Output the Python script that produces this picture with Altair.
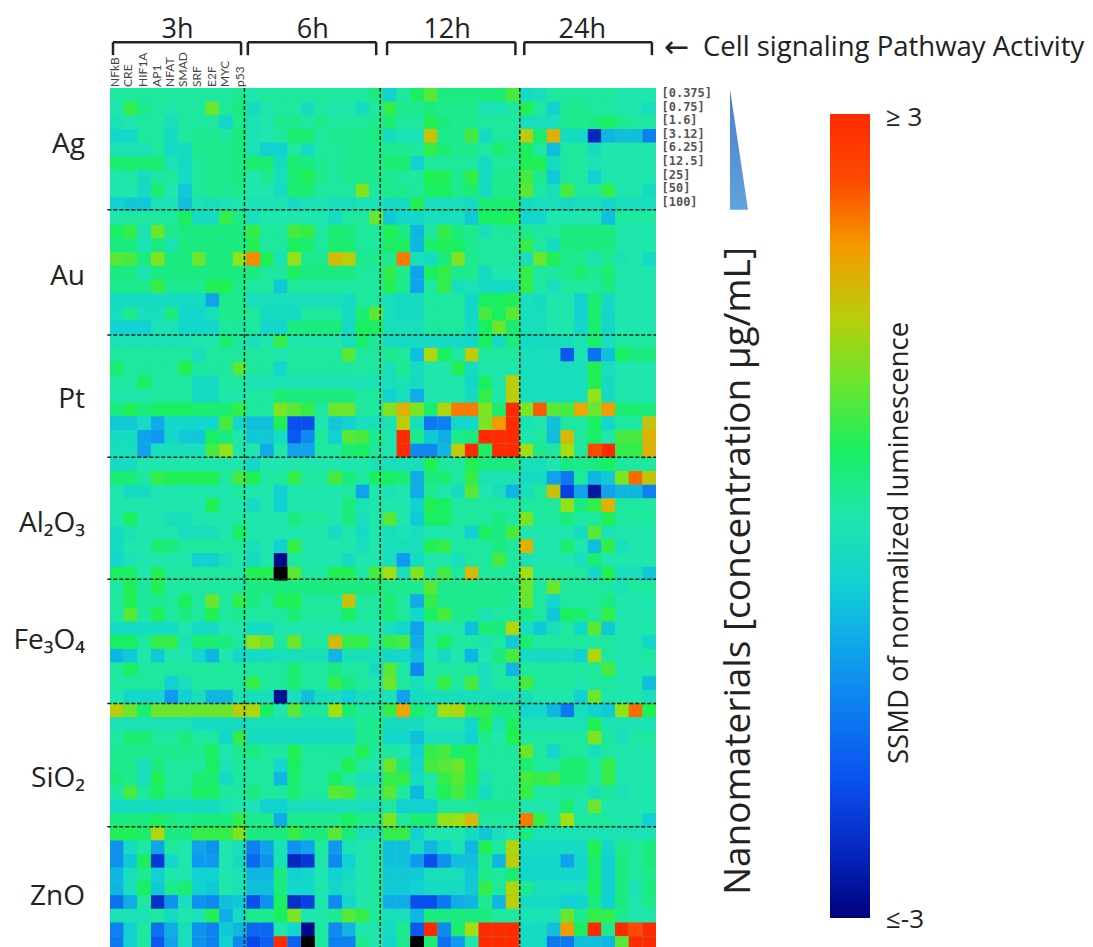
import altair as alt
import pandas as pd

FONT = "Open Sans"
MATERIALS = ["Ag", "Au", "Pt", "Al₂O₃", "Fe₃O₄", "SiO₂", "ZnO"]
TIMES = ["3h", "6h", "12h", "24h"]
PATHWAYS = ["NFkB", "CRE", "HIF1A", "AP1", "NFAT", "SMAD", "SRF", "E2F", "MYC", "p53"]
CONCS = ["[0.375]", "[0.75]", "[1.6]", "[3.12]", "[6.25]", "[12.5]", "[25]", "[50]", "[100]"]
BAR_LABELS = ["≥ 3", "≤-3"]

# SSMD in tenths; each row = 3h, 6h, 12h, 24h blocks of ten pathways
AG = [
 [1,1,1,1,1,1,1,1,1,2, 0,1,1,1,1,1,1,1,1,3, -5,1,5,9,3,3,3,3,4,8, -3,-2,1,1,1,1,1,0,0,0],
 [0,7,2,1,0,1,1,10,1,3, -3,0,1,1,-3,1,0,0,-3,1, 7,2,2,3,2,2,2,-1,-1,1, 6,1,-5,2,2,1,1,0,0,-2],
 [-1,0,1,1,-2,1,1,1,-4,2, -1,0,2,2,1,2,1,1,1,2, 4,1,1,6,3,2,2,1,1,1, -2,-2,-2,2,2,3,5,2,1,1],
 [-4,-4,1,1,-3,1,2,2,1,3, -1,0,1,4,4,1,2,2,2,3, -3,-1,-1,16,2,2,8,-3,1,1, 15,4,18,-3,-3,-25,-8,-7,-7,-14],
 [-1,-1,-1,1,-3,-3,2,2,2,3, -1,-5,-5,1,-3,1,1,2,2,2, 2,2,1,7,4,2,2,1,4,2, 5,1,-7,1,1,-3,0,0,0,0],
 [4,4,4,4,-1,-3,1,2,2,3, 4,4,-3,4,3,2,1,2,2,2, 4,4,-5,1,1,1,1,-3,1,1, 6,6,-3,1,1,-1,0,0,0,0],
 [0,1,-3,1,1,-3,1,2,2,3, 0,2,-2,4,6,2,1,2,2,2, 2,1,1,6,6,2,7,-3,2,2, 8,2,-6,1,1,-5,0,0,0,0],
 [0,0,-3,4,0,-6,1,2,2,2, 0,0,-3,4,4,1,1,1,11,1, 2,2,1,5,5,2,4,-3,2,2, 9,1,-2,8,1,1,7,0,0,-3],
 [-5,-6,-6,-1,-1,-7,-1,-2,-1,0, -1,-1,-1,-3,-1,-1,-2,-2,-1,-1, -3,-3,6,-2,-2,-2,-3,4,4,4, -3,-2,-2,-3,-2,-2,-4,-2,-2,-2],
]
AU = [
 [0,1,1,1,1,5,-3,-3,7,2, -2,0,0,0,0,0,-3,1,1,10, -6,-4,-4,-2,-2,-2,-6,5,5,6, -4,-4,0,0,0,0,-7,1,1,1],
 [5,7,-1,10,2,3,3,3,3,3, 7,1,1,8,7,1,4,3,1,1, 6,3,-8,1,7,3,2,-2,1,1, 2,1,1,3,3,3,3,0,0,0],
 [3,3,-1,3,-1,3,3,3,3,3, 6,1,1,5,4,1,4,4,1,1, 5,5,-8,4,6,5,2,1,1,1, 7,1,-3,3,3,3,3,0,0,0],
 [9,8,3,11,3,3,10,3,3,12, 21,6,-1,12,2,2,17,15,2,2, 2,22,-2,-3,3,11,2,1,1,1, -2,10,6,2,2,-1,2,-1,0,-3],
 [3,3,-1,3,3,3,3,3,3,3, 3,1,1,5,3,3,3,3,1,1, 7,2,-10,5,7,2,2,-3,0,0, 7,1,1,2,4,2,4,0,0,0],
 [2,2,2,7,2,2,2,6,6,2, 1,1,-6,1,1,1,1,1,1,1, 6,2,-10,1,7,-2,-1,-3,-3,-3, 7,1,-2,1,1,1,3,0,0,0],
 [-3,-3,-3,-3,-3,-3,-3,-10,2,2, -2,-2,-2,-2,-2,-2,-2,-3,1,1, -2,-3,-3,1,1,1,-4,5,5,6, -2,-3,0,0,-5,4,-3,0,0,0],
 [-2,2,-2,-2,3,-4,-4,-2,2,2, 1,-3,-3,-3,1,1,1,-3,4,9, -2,-3,-3,1,1,1,-4,8,5,9, -2,-2,0,0,-5,4,-4,0,0,0],
 [-5,-5,-5,-1,-1,-4,-4,-4,1,1, 1,-4,-4,3,3,3,3,-3,5,5, -2,-2,-2,1,1,1,-3,5,10,4, -2,-2,0,0,-4,4,-4,0,0,0],
]
PT = [
 [-1,-1,-1,-1,-1,-1,0,0,4,1, -2,0,7,0,0,0,0,-2,4,1, -3,-3,-3,-3,-3,-3,-4,5,-3,3, -3,-3,-3,-2,-1,4,-2,1,1,1],
 [1,1,1,1,1,1,-2,1,1,1, 1,1,0,1,1,1,1,9,1,1, 2,1,-7,14,5,1,15,1,1,1, -2,-2,-2,-19,-1,-16,-7,5,3,3],
 [4,1,1,1,1,6,1,1,1,9, 1,1,-4,1,1,1,1,1,1,1, -2,2,-3,0,0,6,-3,0,0,0, -2,-2,-2,-2,-2,6,-2,0,0,0],
 [1,1,5,1,1,1,-3,-3,1,1, -1,-1,-1,-1,-1,-1,-1,-1,-1,-1, -2,-1,-3,0,0,0,-4,5,0,15, -2,-2,-2,-2,-2,6,-3,0,0,0],
 [0,0,0,1,1,1,-3,-3,0,0, 1,1,4,3,3,3,3,3,1,1, -5,-2,-9,0,0,0,-3,7,0,15, -2,-2,-2,-2,-2,12,-3,0,0,0],
 [3,6,3,5,5,5,4,4,4,7, 1,1,11,9,7,1,10,10,1,1, 11,18,11,4,14,22,22,11,4,30, 11,24,9,8,19,10,20,4,4,3],
 [-6,-6,-3,-9,-4,-4,-4,-4,8,-4, -7,-7,6,-20,-20,0,-6,-5,-2,-2, -1,15,-2,-15,-14,-4,-4,11,20,30, -1,0,-7,1,1,5,-4,1,1,16],
 [-3,-3,-10,-11,-4,-6,-6,5,3,0, -6,-6,-3,-19,-13,1,-5,9,8,2, 0,28,2,-6,-9,2,3,30,30,30, 0,1,-7,17,1,5,0,8,8,18],
 [-2,-2,-10,-2,-2,-2,-2,8,12,0, 0,-9,0,-10,-10,1,1,4,5,1, 0,28,-13,-13,-8,15,30,5,30,30, 13,2,1,13,1,25,28,7,7,18],
]
AL = [
 [-3,-3,0,0,0,0,0,0,0,0, -4,0,0,0,0,0,0,0,0,-1, -2,-2,-2,6,1,1,6,3,3,3, -2,-2,0,3,2,3,5,1,1,1],
 [4,4,1,7,6,6,6,6,1,8, 6,1,1,7,1,1,8,3,1,5, 5,4,-9,3,4,1,7,-1,-1,-1, -3,-3,-10,-15,1,-8,-6,11,23,16],
 [0,-3,-3,0,0,0,0,0,0,1, 0,0,-5,0,0,0,0,1,-10,0, -1,0,-9,2,0,-3,9,0,-2,-8, -2,1,16,-22,-10,-27,-10,-8,-8,-14],
 [0,0,0,0,0,0,0,6,0,0, -3,0,-5,0,0,0,0,3,-1,0, 0,0,-5,6,5,1,1,1,1,1, 1,1,1,12,3,7,18,1,1,1],
 [0,5,0,0,-2,-2,0,0,0,1, 0,0,0,3,1,1,0,3,-2,0, 9,0,-6,5,5,1,1,1,3,1, 11,1,1,3,1,1,6,1,1,1],
 [-3,-1,0,0,0,-2,-2,-2,0,5, 0,0,0,0,0,0,-3,0,-3,0, -2,-1,-2,0,0,0,-5,5,3,8, 0,0,0,0,-3,9,-1,0,0,0],
 [-3,0,0,4,3,1,1,1,1,1, -2,0,-5,7,0,0,0,0,-2,0, -2,-2,-2,6,7,1,1,1,3,1, 18,0,0,4,0,-7,7,-2,0,0],
 [-4,-1,0,0,0,0,-5,-5,-2,0, -3,0,-29,1,0,0,0,-3,0,0, -2,-11,-3,0,0,-2,1,1,8,1, -1,0,0,0,-2,4,0,0,0,0],
 [5,5,0,6,1,1,1,1,1,1, 6,6,-35,9,1,1,6,6,1,8, 13,-2,11,1,8,1,17,1,1,1, 13,1,1,1,1,-4,6,-2,-2,-6],
]
FE = [
 [1,6,1,6,1,1,1,1,1,1, 3,3,3,3,3,3,3,3,3,3, 2,2,2,9,2,2,2,2,2,2, 10,1,10,1,1,1,1,-1,1,1],
 [1,6,1,2,1,5,1,10,1,7, 3,1,6,6,1,1,1,16,1,1, 4,1,-9,7,2,2,2,2,2,1, 10,1,-4,1,1,1,3,0,0,0],
 [1,9,1,6,1,3,1,6,1,2, 1,1,1,4,1,1,1,5,1,1, 4,1,-4,5,8,2,2,-1,1,1, 3,1,-6,5,4,1,7,0,0,0],
 [-3,-3,-3,-3,-3,0,-3,-3,0,0, -3,-3,0,0,0,0,0,0,0,0, -2,-4,-10,0,0,0,-7,4,3,14, -2,-6,-2,1,-4,9,-6,0,0,0],
 [5,5,1,7,7,-1,4,4,3,1, 12,10,1,10,1,1,17,7,7,1, 7,8,-9,1,5,1,1,-1,1,-6, 4,1,1,1,1,1,1,0,0,-4],
 [-8,-6,0,-6,0,0,-4,-8,0,-4, -3,-3,-2,-2,-2,-2,-8,-2,-2,-2, -4,-4,-7,0,-3,0,-8,0,3,8, -3,-3,-3,-3,-5,14,1,0,0,1],
 [1,5,1,1,1,1,1,1,1,1, 1,1,1,4,1,1,3,1,1,-3, 9,1,-13,1,1,1,1,-2,1,-8, 1,1,1,1,1,1,8,0,0,0],
 [1,1,1,1,-5,-2,1,1,1,1, 7,1,1,4,1,1,7,3,1,0, 10,1,-2,1,7,1,8,-2,1,1, 8,1,1,1,0,1,1,0,0,-7],
 [0,-4,-4,-4,-11,-5,-2,-8,-8,-1, -2,-2,-28,-2,-7,-2,-2,-5,-2,-2, -1,-10,-3,-2,-2,-2,-2,-2,-2,-2, -2,0,0,0,-5,10,0,0,0,-2],
]
SI = [
 [15,10,4,10,10,10,10,10,10,15, 14,5,0,9,1,1,13,4,1,1, 7,19,4,1,13,14,7,7,3,3, -4,-4,-8,-15,-2,-5,-6,12,23,6],
 [-1,-1,-1,-1,-1,-1,-3,-3,-3,-3, -2,-2,-2,-2,-2,-2,-2,-2,2,2, -3,-3,-3,0,0,0,-4,6,-1,5, -1,-1,-1,-1,-1,6,-1,-1,-1,-1],
 [1,4,4,1,1,3,1,1,-4,7, -3,-3,-3,-3,-3,-3,-3,-3,2,2, -4,-4,-7,-2,-2,-2,-5,2,0,6, 1,1,1,1,1,11,1,-2,1,1],
 [2,2,2,2,2,2,2,5,0,2, 3,1,1,6,1,1,1,1,6,1, 1,0,-5,7,8,4,6,1,1,1, 10,1,-4,1,1,-2,1,0,0,0],
 [2,2,-2,3,1,1,1,5,-1,1, 1,1,-4,5,1,1,1,6,1,0, 10,3,-4,8,9,10,6,1,1,1, 4,1,1,4,4,1,7,0,0,0],
 [3,2,-2,6,1,1,4,4,-3,1, 1,1,-8,4,1,1,5,1,-2,-2, 7,7,-3,1,7,9,6,-1,1,1, 8,7,8,4,4,1,7,0,0,0],
 [1,8,1,5,1,1,5,5,1,1, 3,1,1,4,1,1,9,8,1,1, 9,1,-8,1,6,8,4,-3,1,1, 7,1,1,1,1,-2,1,-1,0,0],
 [-3,-3,-3,-3,-3,-3,-3,-3,-1,0, -1,-5,-5,-2,-2,-2,-2,-2,-2,-2, 1,-5,-5,-5,1,1,1,2,2,2, 0,0,0,4,0,10,0,0,0,0],
 [3,3,3,5,3,2,3,3,3,7, 2,2,-9,2,2,2,2,5,2,2, 11,1,4,3,12,13,17,1,1,1, 22,7,1,13,1,1,1,0,0,-5],
]
ZN = [
 [6,6,4,14,3,3,7,7,7,11, 3,3,3,7,3,3,9,3,-2,-2, 7,7,-5,0,0,0,-3,-6,-2,0, 3,-1,-1,-1,-1,-1,-1,-1,-1,-1],
 [-12,-3,1,-10,1,0,-10,-12,0,-2, -14,-10,-1,-12,-10,1,-11,-1,0,1, -7,-7,-3,-8,-4,-1,-8,6,1,14, -3,-3,-3,-3,-3,6,-4,2,1,3],
 [-12,-6,5,-23,-4,0,-11,-11,0,-3, -17,-12,-1,-25,-23,0,-13,-5,0,1, -7,-7,-11,-20,-12,-7,-7,2,-8,15, -4,-4,-4,-10,-4,4,-5,3,1,3],
 [-8,-2,2,-5,0,0,-5,-5,0,-1, -8,-8,3,-5,-4,0,-5,-3,0,1, -6,-6,-6,-2,-2,-2,-6,2,1,4, -4,-4,-4,-4,-4,4,-5,3,1,2],
 [-8,-2,5,-6,2,4,-5,-6,0,-1, -7,-7,3,-4,-4,0,-4,-2,0,1, -6,-6,-5,-3,-3,-3,-6,7,1,14, 2,-2,-2,-2,-2,5,-5,3,-1,3],
 [-16,-9,1,-24,-12,-2,-12,-13,-7,-6, -20,-12,5,-24,-22,0,-13,-4,0,1, -9,-9,-20,-20,-15,-9,-8,2,-8,15, -3,-3,-3,-5,-5,3,-5,3,0,2],
 [-1,-1,-1,1,-3,0,-1,6,-9,-3, 2,2,5,11,0,0,2,9,7,1, -2,-2,-8,3,3,3,3,3,1,1, -1,-1,-1,10,2,7,7,2,0,0],
 [-14,-5,1,-16,-9,-2,-12,-14,-6,-8, -17,-17,0,-4,-29,1,-13,-8,0,0, -3,2,-19,27,-13,4,13,30,30,30, -3,-3,-7,20,5,27,2,28,25,28],
 [-15,-5,1,-19,-10,-2,-12,-14,-5,-13, -21,-18,28,-18,-35,1,-14,-14,2,0, -4,2,-35,4,-16,-11,0,30,30,30, -3,-3,-15,-15,-7,-7,-8,9,30,30],
]
ALL_ROWS = AG + AU + PT + AL + FE + SI + ZN

COLOR_DOMAIN = [-3, -2.1, -1.07, -0.47, 0.0, 0.55, 1.28, 1.97, 2.7, 3]
COLOR_RANGE = ["#00007f", "#0a46f0", "#109cf0", "#12d4d0", "#1ee6ac", "#18f058",
               "#a0e010", "#f5a000", "#ff2a00", "#ff2a00"]

V_SPLITS = [9.85, 19.8, 30.02]
H_SPLITS = [8.9, 18.05, 27.0, 35.9, 45.0, 54.0]
TIME_X = [4.95, 14.85, 24.7, 34.6]
MATERIAL_Y = [4.17, 13.8, 22.8, 31.9, 40.4, 50.5, 59.1]
BRACKETS = [(0.22, 9.6), (10.1, 19.5), (20.3, 29.7), (30.35, 39.7)]
PATHWAY_X = [0.37, 1.33, 2.4, 3.42, 4.4, 5.35, 6.35, 7.45, 8.45, 9.5]
CONC_Y = [0.37, 1.39, 2.34, 3.36, 4.31, 5.34, 6.36, 7.31, 8.33]

cells = pd.DataFrame([
    {"x0": c, "x1": c + 1, "y0": r, "y1": r + 1, "v": v / 10}
    for r, row in enumerate(ALL_ROWS) for c, v in enumerate(row)
])

xs = alt.Scale(domain=[0, 40], nice=False, zero=False)
ys = alt.Scale(domain=[62.79, 0], nice=False, zero=False)
cs = alt.Scale(domain=COLOR_DOMAIN, range=COLOR_RANGE, clamp=True, interpolate="rgb")
X = lambda f: alt.X(f, type="quantitative", scale=xs, axis=None)
Y = lambda f: alt.Y(f, type="quantitative", scale=ys, axis=None)

legend = alt.Legend(
    type="gradient", orient="none", legendX=720, legendY=26, title=None,
    gradientLength=804, gradientThickness=40, gradientStrokeWidth=0,
    values=[-3, 3], labelOpacity=0, labelFontSize=1, direction="vertical",
)
backdrop = alt.Chart(pd.DataFrame({"a": [0], "b": [40], "c": [0], "d": [62.79]})).mark_rect(
    color="#1ee6ac").encode(x=X("a"), x2="b", y=Y("c"), y2="d")
heat = alt.Chart(cells).mark_rect(clip=True).encode(
    x=X("x0"), x2="x1", y=Y("y0"), y2="y1",
    color=alt.Color("v:Q", scale=cs, legend=legend),
)
# readings below the scale's floor appear black in the original
black = alt.Chart(cells).transform_filter("datum.v < -3").mark_rect(
    clip=True, color="#000000").encode(x=X("x0"), x2="x1", y=Y("y0"), y2="y1")

vrules = alt.Chart(pd.DataFrame({"x": V_SPLITS, "a": [0] * 3, "b": [62.79] * 3})).mark_rule(
    color="#0a2a1a", strokeWidth=1.5, strokeDash=[4, 2]).encode(x=X("x"), y=Y("a"), y2="b")
hrules = alt.Chart(pd.DataFrame({"y": H_SPLITS, "a": [-0.2] * 6, "b": [40] * 6})).mark_rule(
    color="#0a2a1a", strokeWidth=1.5, strokeDash=[4, 2]).encode(y=Y("y"), x=X("a"), x2="b")

# time brackets
bh = alt.Chart(pd.DataFrame({"a": [b[0] for b in BRACKETS], "b": [b[1] for b in BRACKETS],
                             "y": [-3.35] * 4})).mark_rule(color="#222", strokeWidth=2.5).encode(
    x=X("a"), x2="b", y=Y("y"))
bv_x = [v for b in BRACKETS for v in b]
bv = alt.Chart(pd.DataFrame({"x": bv_x, "a": [-3.35] * 8, "b": [-2.4] * 8})).mark_rule(
    color="#222", strokeWidth=2.5).encode(x=X("x"), y=Y("a"), y2="b")


def text_layer(texts, x, y, **mk):
    df = pd.DataFrame({"t": texts, "x": x, "y": y})
    return alt.Chart(df).mark_text(**mk).encode(x=X("x"), y=Y("y"), text="t:N")


times = text_layer(TIMES, TIME_X, [-4.25] * 4, font=FONT, fontSize=27, color="#222",
                   align="center", baseline="middle")
materials = text_layer(MATERIALS, [-1.83] * 7, MATERIAL_Y, font=FONT, fontSize=28, color="#222",
                       align="right", baseline="middle")
pathways = text_layer(PATHWAYS, PATHWAY_X, [-0.08] * 10, font="Lato", fontSize=12, color="#444",
                      angle=270, align="left", baseline="middle")
concs = text_layer(CONCS, [40.4] * 9, CONC_Y, font="DejaVu Sans Mono", fontSize=12,
                   fontWeight="bold", color="#555", align="left", baseline="middle")
arrow_mark = text_layer(["←"], [40.6], [-2.9], font="DejaVu Sans", fontSize=30, color="#222",
                        align="left", baseline="middle")
arrow = text_layer(["Cell signaling Pathway Activity"], [43.44], [-2.9], font=FONT,
                   fontSize=27.5, color="#222", align="left", baseline="middle")
nano = text_layer(["Nanomaterials [concentration µg/mL]"], [46.1], [35.3], font=FONT,
                  fontSize=37, color="#222", angle=270, align="center", baseline="middle")
ssmd = text_layer(["SSMD of normalized luminescence"], [57.9], [33.25], font=FONT,
                  fontSize=27.5, color="#222", angle=270, align="center", baseline="middle")
bar_labels = text_layer(BAR_LABELS, [56.85, 56.85], [2.19, 60.8], font=FONT, fontSize=26,
                        color="#222", align="left", baseline="middle")

tri = alt.Chart(pd.DataFrame({"x": [45.42, 46.74], "top": [0.07, 8.9], "bot": [8.9, 8.9]})).mark_area(
    line=False,
    color=alt.Gradient(gradient="linear", x1=0, y1=0, x2=0, y2=1,
                       stops=[alt.GradientStop(offset=0, color="#4a7fc8"),
                              alt.GradientStop(offset=1, color="#62a2de")]),
).encode(x=X("x"), y=Y("top"), y2="bot")

chart = alt.layer(
    backdrop, heat, black, vrules, hrules, bh, bv, times, materials, pathways, concs,
    arrow_mark, arrow, nano, ssmd, bar_labels, tri
).properties(
    width=546, height=859,
    autosize=alt.AutoSizeParams(type="none"),
    padding={"left": 102, "top": 80, "right": 429, "bottom": 0},
).configure_view(stroke=None)

chart.save("out.html", embed_options={"renderer": "svg", "actions": False})
